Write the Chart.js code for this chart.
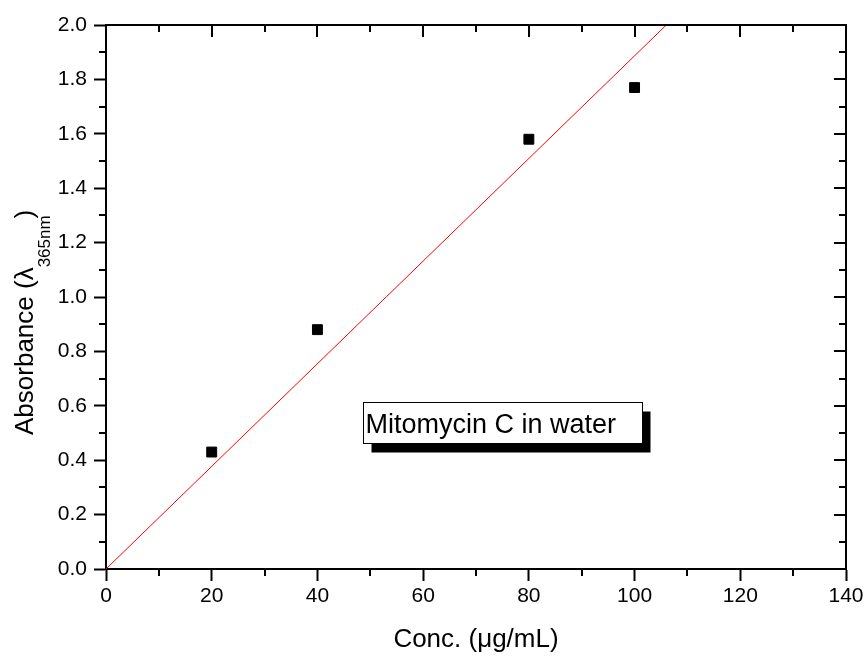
<!DOCTYPE html>
<html lang="en">
<head>
  <meta charset="UTF-8">
  <title>Mitomycin C in water - calibration</title>
  <script src="https://cdn.jsdelivr.net/npm/chart.js"></script>
  <style>
    body {
      margin: 0;
      background: #fff;
    }
    #absChart {
      display: block;
    }
  </style>
</head>
<body>

<canvas id="absChart" width="867" height="657"></canvas>

<script>
  // measured points
  var concValues = [20, 40, 80, 100];
  var absValues = [0.43, 0.88, 1.58, 1.77];

  // fitted line through the origin (hits the top at ~106)
  var fitX = [0, 106];
  var fitY = [0, 2.0];

  // axis ticks
  var xTicks = [0, 20, 40, 60, 80, 100, 120, 140];
  var xMinorTicks = [10, 30, 50, 70, 90, 110, 130];
  var yTicks = [0, 0.2, 0.4, 0.6, 0.8, 1.0, 1.2, 1.4, 1.6, 1.8, 2.0];
  var yMinorTicks = [0.1, 0.3, 0.5, 0.7, 0.9, 1.1, 1.3, 1.5, 1.7, 1.9];

  var xTitle = 'Conc. (\u03BCg/mL)';
  var yTitleMain = 'Absorbance (\u03BB';
  var yTitleSub = '365nm';
  var yTitleEnd = ')';
  var boxLabel = 'Mitomycin C in water';

  var pointData = concValues.map(function (c, i) { return { x: c, y: absValues[i] }; });
  var fitData = fitX.map(function (x, i) { return { x: x, y: fitY[i] }; });

  var FONT = 'Arial, "Liberation Sans", sans-serif';

  // frame on top/right, minor ticks, axis titles and the label box
  var extrasPlugin = {
    id: 'extras',
    afterDraw: function (chart) {
      var ctx = chart.ctx;
      var area = chart.chartArea;
      var xs = chart.scales.x;
      var ys = chart.scales.y;

      ctx.save();
      ctx.strokeStyle = '#000';
      ctx.lineWidth = 2;
      ctx.beginPath();
      ctx.moveTo(area.left - 1, area.top);
      ctx.lineTo(area.right, area.top);
      ctx.lineTo(area.right, area.bottom + 1);
      ctx.stroke();

      ctx.beginPath();
      xTicks.forEach(function (v) {
        var px = Math.round(xs.getPixelForValue(v));
        ctx.moveTo(px, area.top);
        ctx.lineTo(px, area.top + 12);
      });
      xMinorTicks.forEach(function (v) {
        var px = Math.round(xs.getPixelForValue(v));
        ctx.moveTo(px, area.top);
        ctx.lineTo(px, area.top + 7);
        ctx.moveTo(px, area.bottom);
        ctx.lineTo(px, area.bottom + 7);
      });
      yTicks.forEach(function (v) {
        var py = Math.round(ys.getPixelForValue(v));
        ctx.moveTo(area.right, py);
        ctx.lineTo(area.right - 12, py);
      });
      yMinorTicks.forEach(function (v) {
        var py = Math.round(ys.getPixelForValue(v));
        ctx.moveTo(area.right, py);
        ctx.lineTo(area.right - 7, py);
        ctx.moveTo(area.left, py);
        ctx.lineTo(area.left - 7, py);
      });
      ctx.stroke();

      // x title
      ctx.fillStyle = '#000';
      ctx.font = '26px ' + FONT;
      ctx.textAlign = 'center';
      ctx.textBaseline = 'alphabetic';
      ctx.fillText(xTitle, (area.left + area.right) / 2, 647);

      // y title with subscript
      ctx.save();
      ctx.translate(33, 435);
      ctx.rotate(-Math.PI / 2);
      ctx.textAlign = 'left';
      ctx.font = '26px ' + FONT;
      ctx.fillText(yTitleMain, 0, 0);
      var w1 = ctx.measureText(yTitleMain).width;
      ctx.font = '17px ' + FONT;
      ctx.fillText(yTitleSub, w1, 17);
      var w2 = ctx.measureText(yTitleSub).width;
      ctx.font = '26px ' + FONT;
      ctx.fillText(yTitleEnd, w1 + w2 - 3, 0);
      ctx.restore();

      // label box with shadow
      var bx = Math.round(xs.getPixelForValue(48.6)) + 0.5;
      var by = Math.round(ys.getPixelForValue(0.615)) + 0.5;
      var bw = 279, bh = 41;
      ctx.fillStyle = '#000';
      ctx.fillRect(bx + 8, by + 9, bw, bh);
      ctx.fillStyle = '#fff';
      ctx.fillRect(bx, by, bw, bh);
      ctx.lineWidth = 1;
      ctx.strokeRect(bx, by, bw, bh);
      ctx.fillStyle = '#000';
      ctx.font = '27px ' + FONT;
      ctx.textAlign = 'left';
      ctx.fillText(boxLabel, bx + 2, by + 30);
      ctx.restore();
    }
  };

  var ctx = document.getElementById('absChart').getContext('2d');
  var chart = new Chart(ctx, {
    type: 'scatter',
    data: {
      datasets: [{
        label: 'Absorbance',
        data: pointData,
        pointStyle: 'rect',
        pointRadius: 7,
        pointBorderWidth: 1,
        backgroundColor: '#000',
        borderColor: '#000',
        showLine: false
      }, {
        label: 'Fit',
        data: fitData,
        showLine: true,
        pointRadius: 0,
        borderColor: '#ff0000',
        borderWidth: 1,
        fill: false
      }]
    },
    options: {
      responsive: false,
      animation: false,
      layout: {
        padding: { top: 25, right: 21, left: 0, bottom: 0 }
      },
      plugins: {
        legend: { display: false },
        tooltip: { enabled: false }
      },
      scales: {
        x: {
          type: 'linear',
          min: 0,
          max: 140,
          afterBuildTicks: function (s) {
            s.ticks = xTicks.map(function (v) { return { value: v }; });
          },
          afterFit: function (s) { s.height = 88; },
          grid: {
            drawOnChartArea: false,
            drawTicks: true,
            tickLength: 12,
            tickWidth: 2,
            tickColor: '#000'
          },
          border: { color: '#000', width: 2 },
          ticks: {
            color: '#000',
            padding: 3,
            maxRotation: 0,
            autoSkip: false,
            font: { family: FONT, size: 21 }
          }
        },
        y: {
          type: 'linear',
          min: 0,
          max: 2.0,
          afterBuildTicks: function (s) {
            s.ticks = yTicks.map(function (v) { return { value: v }; });
          },
          afterFit: function (s) { s.width = 106; },
          grid: {
            drawOnChartArea: false,
            drawTicks: true,
            tickLength: 12,
            tickWidth: 2,
            tickColor: '#000'
          },
          border: { color: '#000', width: 2 },
          ticks: {
            color: '#000',
            padding: 7,
            autoSkip: false,
            font: { family: FONT, size: 21 },
            callback: function (v) { return v.toFixed(1); }
          }
        }
      }
    },
    plugins: [extrasPlugin]
  });
</script>

</body>
</html>
